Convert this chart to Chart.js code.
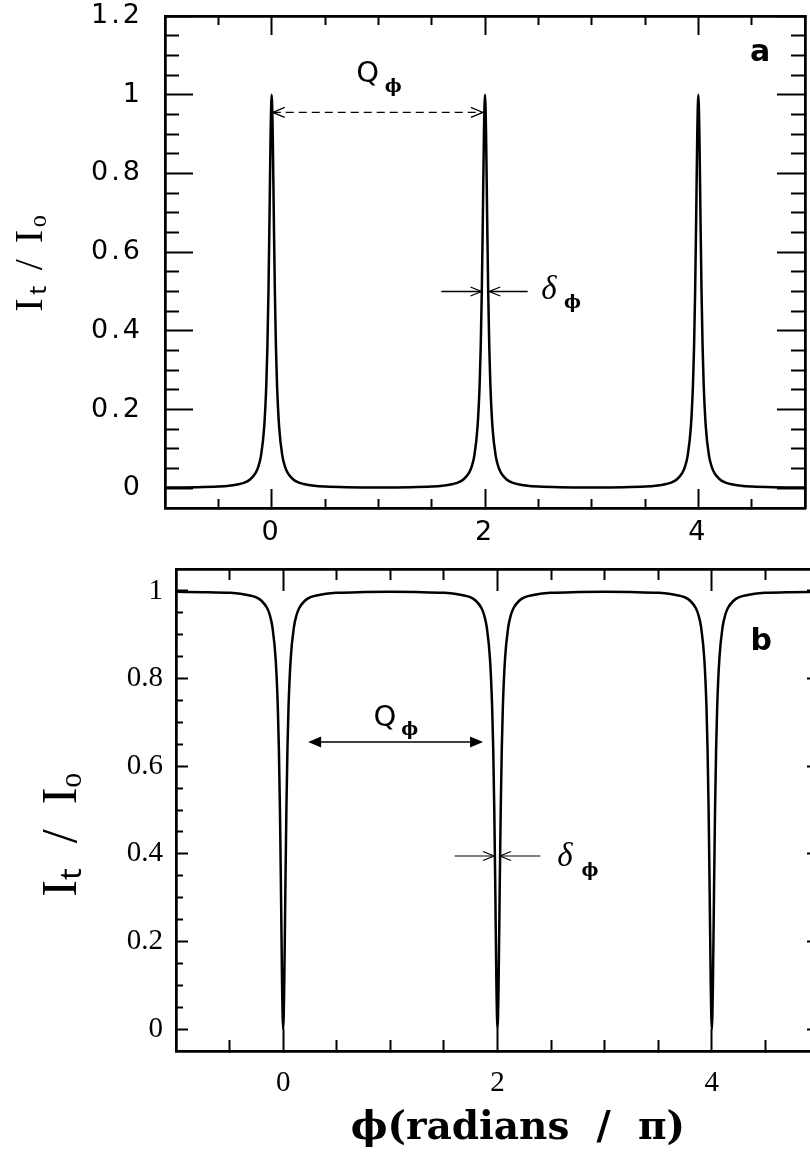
<!DOCTYPE html>
<html lang="en">
<head>
<meta charset="UTF-8">
<title>Fabry-Perot transmission and reflection</title>
<script src="https://cdn.jsdelivr.net/npm/chart.js@4"></script>
<style>
  html, body { margin: 0; padding: 0; background: #fff; overflow: hidden; }
  body { width: 810px; height: 1152px; position: relative; }
  canvas { position: absolute; left: 0; }
  #chartA { top: 0; }
  #chartB { top: 540px; }
</style>
</head>
<body>
<canvas id="chartA" width="830" height="560"></canvas>
<canvas id="chartB" width="830" height="612"></canvas>
<script>
// phase (radians / pi)
const phase = [
  -1, -0.7, -0.5, -0.4, -0.3, -0.25, -0.2, -0.15, -0.125, -0.1, -0.07, -0.05, -0.04, -0.03, -0.02, -0.01,
  0, 0.01, 0.02, 0.03, 0.04, 0.05, 0.07, 0.1, 0.125, 0.15, 0.2, 0.25, 0.3, 0.4, 0.5, 0.7,
  1, 1.3, 1.5, 1.6, 1.7, 1.75, 1.8, 1.85, 1.875, 1.9, 1.93, 1.95, 1.96, 1.97, 1.98, 1.99,
  2, 2.01, 2.02, 2.03, 2.04, 2.05, 2.07, 2.1, 2.125, 2.15, 2.2, 2.25, 2.3, 2.4, 2.5, 2.7,
  3, 3.3, 3.5, 3.6, 3.7, 3.75, 3.8, 3.85, 3.875, 3.9, 3.93, 3.95, 3.96, 3.97, 3.98, 3.99,
  4, 4.01, 4.02, 4.03, 4.04, 4.05, 4.07, 4.1, 4.125, 4.15, 4.2, 4.25, 4.3, 4.4, 4.5, 4.7,
  5
];

// (a) transmitted intensity It/Io
const transA = [
  0.0022, 0.0028, 0.0044, 0.0064, 0.011, 0.015, 0.023, 0.039, 0.055, 0.083, 0.156, 0.265, 0.36, 0.5, 0.692, 0.9,
  1, 0.9, 0.692, 0.5, 0.36, 0.265, 0.156, 0.083, 0.055, 0.039, 0.023, 0.015, 0.011, 0.0064, 0.0044, 0.0028,
  0.0022, 0.0028, 0.0044, 0.0064, 0.011, 0.015, 0.023, 0.039, 0.055, 0.083, 0.156, 0.265, 0.36, 0.5, 0.692, 0.9,
  1, 0.9, 0.692, 0.5, 0.36, 0.265, 0.156, 0.083, 0.055, 0.039, 0.023, 0.015, 0.011, 0.0064, 0.0044, 0.0028,
  0.0022, 0.0028, 0.0044, 0.0064, 0.011, 0.015, 0.023, 0.039, 0.055, 0.083, 0.156, 0.265, 0.36, 0.5, 0.692, 0.9,
  1, 0.9, 0.692, 0.5, 0.36, 0.265, 0.156, 0.083, 0.055, 0.039, 0.023, 0.015, 0.011, 0.0064, 0.0044, 0.0028,
  0.0022
];

// (b) dips of It/Io
const reflB = [
  0.9978, 0.9972, 0.9956, 0.9936, 0.989, 0.985, 0.977, 0.961, 0.945, 0.917, 0.844, 0.735, 0.64, 0.5, 0.308, 0.1,
  0, 0.1, 0.308, 0.5, 0.64, 0.735, 0.844, 0.917, 0.945, 0.961, 0.977, 0.985, 0.989, 0.9936, 0.9956, 0.9972,
  0.9978, 0.9972, 0.9956, 0.9936, 0.989, 0.985, 0.977, 0.961, 0.945, 0.917, 0.844, 0.735, 0.64, 0.5, 0.308, 0.1,
  0, 0.1, 0.308, 0.5, 0.64, 0.735, 0.844, 0.917, 0.945, 0.961, 0.977, 0.985, 0.989, 0.9936, 0.9956, 0.9972,
  0.9978, 0.9972, 0.9956, 0.9936, 0.989, 0.985, 0.977, 0.961, 0.945, 0.917, 0.844, 0.735, 0.64, 0.5, 0.308, 0.1,
  0, 0.1, 0.308, 0.5, 0.64, 0.735, 0.844, 0.917, 0.945, 0.961, 0.977, 0.985, 0.989, 0.9936, 0.9956, 0.9972,
  0.9978
];

// tick positions
const xMajor = [0, 2, 4];
const xMinor = [-0.5, 0.5, 1, 1.5, 2.5, 3, 3.5, 4.5];
const yMajorA = [0, 0.2, 0.4, 0.6, 0.8, 1, 1.2];
const yMinorA = [0.05, 0.1, 0.15, 0.25, 0.3, 0.35, 0.45, 0.5, 0.55, 0.65, 0.7, 0.75, 0.85, 0.9, 0.95, 1.05, 1.1, 1.15];
const yMajorB = [0, 0.2, 0.4, 0.6, 0.8, 1];
const yMinorB = [0.05, 0.1, 0.15, 0.25, 0.3, 0.35, 0.45, 0.5, 0.55, 0.65, 0.7, 0.75, 0.85, 0.9, 0.95];

const yTitleA = 'Iₜ / Iₒ';
const yTitleB = 'Iₜ  /  Iₒ    ';
const xTitle = '   ϕ(radians  /  π)';

const fmt = v => String(+v.toFixed(2));

// one axis: pos, [min,max], tick list, inward tick length, box size, label cfg
function axis(pos, range, list, len, size, lab) {
  const horiz = pos === 'top' || pos === 'bottom';
  return {
    type: 'linear',
    axis: horiz ? 'x' : 'y',
    position: pos,
    min: range[0],
    max: range[1],
    weight: lab ? 10 : 0,
    afterBuildTicks: s => { s.ticks = list.map(v => ({ value: v })); },
    afterFit: s => {
      if (horiz) s.height = size; else s.width = size;
      s.paddingLeft = s.paddingRight = s.paddingTop = s.paddingBottom = 0;
    },
    grid: { drawOnChartArea: false, drawTicks: true, tickLength: -len, tickWidth: 2, tickColor: '#000' },
    border: { display: true, color: '#000', width: 2.5 },
    ticks: lab ? {
      display: true, autoSkip: false, maxRotation: 0, minRotation: 0,
      padding: lab.pad, font: lab.font, color: '#000', callback: fmt
    } : { display: false },
    title: lab && lab.title ? lab.title : { display: false }
  };
}

function curve(ys) {
  return {
    data: phase.map((x, i) => ({ x, y: ys[i] })),
    borderColor: '#000',
    borderWidth: 2.5,
    pointRadius: 0,
    fill: false,
    cubicInterpolationMode: 'monotone'
  };
}

function openHead(ctx, x, y, dir, len, half) {
  ctx.beginPath();
  ctx.moveTo(x - dir * len, y - half);
  ctx.lineTo(x, y);
  ctx.lineTo(x - dir * len, y + half);
  ctx.stroke();
}
function solidHead(ctx, x, y, dir, len, half) {
  ctx.beginPath();
  ctx.moveTo(x - dir * len, y - half);
  ctx.lineTo(x, y);
  ctx.lineTo(x - dir * len, y + half);
  ctx.closePath();
  ctx.fill();
}
function label(ctx, sx, sy, p, text, font) {
  ctx.font = font;
  ctx.fillText(text, sx.getPixelForValue(p[0]), sy.getPixelForValue(p[1]));
}

// annotation positions, data units
const qA = { x0: 0.01, x1: 1.98, y: 0.955, q: [0.9, 1.051], sub: [1.14, 1.02] };
const dA = { l: [1.59, 1.967], r: [2.4, 2.04], y: 0.5, d: [2.6, 0.503], sub: [2.82, 0.471] };
const panelA = [4.58, 1.105];
const qB = { x0: 0.233, x1: 1.865, y: 0.655, q: [0.95, 0.709], sub: [1.18, 0.682] };
const dB = { l: [1.6, 1.967], r: [2.4, 2.023], y: 0.395, d: [2.63, 0.391], sub: [2.862, 0.361] };
const panelB = [4.46, 0.884];

const hershey = { family: '"DejaVu Sans"', size: 27 };
const spacing = {
  id: 'spacing',
  beforeDraw(chart) { chart.ctx.letterSpacing = '3px'; },
  beforeDatasetsDraw(chart) { chart.ctx.letterSpacing = '0px'; }
};

const marksA = {
  id: 'marksA',
  afterDatasetsDraw(chart) {
    const { ctx, scales: { x, y } } = chart;
    ctx.save();
    ctx.strokeStyle = ctx.fillStyle = '#000';
    ctx.textAlign = 'center';
    ctx.textBaseline = 'middle';
    // Q dashed arrow
    const yq = y.getPixelForValue(qA.y);
    const xa = x.getPixelForValue(qA.x0), xb = x.getPixelForValue(qA.x1);
    ctx.lineWidth = 1.3;
    ctx.setLineDash([8, 5]);
    ctx.beginPath(); ctx.moveTo(xa, yq); ctx.lineTo(xb, yq); ctx.stroke();
    ctx.setLineDash([]);
    openHead(ctx, xa, yq, -1, 12, 5);
    openHead(ctx, xb, yq, 1, 12, 5);
    label(ctx, x, y, qA.q, 'Q', '29px "DejaVu Sans"');
    label(ctx, x, y, qA.sub, 'ϕ', 'bold 18px "DejaVu Serif"');
    // delta arrows
    const yd = y.getPixelForValue(dA.y);
    ctx.beginPath();
    ctx.moveTo(x.getPixelForValue(dA.l[0]), yd); ctx.lineTo(x.getPixelForValue(dA.l[1]), yd);
    ctx.moveTo(x.getPixelForValue(dA.r[0]), yd); ctx.lineTo(x.getPixelForValue(dA.r[1]), yd);
    ctx.stroke();
    openHead(ctx, x.getPixelForValue(dA.l[1]), yd, 1, 11, 4.5);
    openHead(ctx, x.getPixelForValue(dA.r[1]), yd, -1, 11, 4.5);
    label(ctx, x, y, dA.d, 'δ', 'italic 33px "Liberation Serif"');
    label(ctx, x, y, dA.sub, 'ϕ', 'bold 18px "DejaVu Serif"');
    label(ctx, x, y, panelA, 'a', 'bold 30px "DejaVu Sans"');
    ctx.restore();
  }
};

const marksB = {
  id: 'marksB',
  afterDatasetsDraw(chart) {
    const { ctx, scales: { x, y } } = chart;
    ctx.save();
    ctx.strokeStyle = ctx.fillStyle = '#000';
    ctx.textAlign = 'center';
    ctx.textBaseline = 'middle';
    const yq = y.getPixelForValue(qB.y);
    const xa = x.getPixelForValue(qB.x0), xb = x.getPixelForValue(qB.x1);
    ctx.lineWidth = 1.5;
    ctx.beginPath(); ctx.moveTo(xa + 6, yq); ctx.lineTo(xb - 6, yq); ctx.stroke();
    solidHead(ctx, xa, yq, -1, 13, 5.5);
    solidHead(ctx, xb, yq, 1, 13, 5.5);
    label(ctx, x, y, qB.q, 'Q', '29px "DejaVu Sans"');
    label(ctx, x, y, qB.sub, 'ϕ', 'bold 18px "DejaVu Serif"');
    const yd = y.getPixelForValue(dB.y);
    ctx.lineWidth = 1.2;
    ctx.beginPath();
    ctx.moveTo(x.getPixelForValue(dB.l[0]), yd); ctx.lineTo(x.getPixelForValue(dB.l[1]), yd);
    ctx.moveTo(x.getPixelForValue(dB.r[0]), yd); ctx.lineTo(x.getPixelForValue(dB.r[1]), yd);
    ctx.stroke();
    openHead(ctx, x.getPixelForValue(dB.l[1]), yd, 1, 11, 4.5);
    openHead(ctx, x.getPixelForValue(dB.r[1]), yd, -1, 11, 4.5);
    label(ctx, x, y, dB.d, 'δ', 'italic 33px "Liberation Serif"');
    label(ctx, x, y, dB.sub, 'ϕ', 'bold 18px "DejaVu Serif"');
    label(ctx, x, y, panelB, 'b', 'bold 30px "DejaVu Sans"');
    ctx.restore();
  }
};

const common = {
  responsive: false,
  animation: false,
  events: [],
  plugins: { legend: { display: false }, tooltip: { enabled: false } }
};

// panel a
new Chart(document.getElementById('chartA'), {
  type: 'line',
  data: { datasets: [curve(transA)] },
  plugins: [spacing, marksA],
  options: Object.assign({}, common, {
    layout: { padding: { top: 16, right: 25, left: 0, bottom: 0 } },
    scales: {
      x: axis('bottom', [-1, 5], xMajor, 19, 52, { pad: 28, font: hershey }),
      xMinor: axis('bottom', [-1, 5], xMinor, 9, 0),
      xTop: axis('top', [-1, 5], xMajor, 19, 0),
      xTopMinor: axis('top', [-1, 5], xMinor, 9, 0),
      y: axis('left', [-0.05, 1.2], yMajorA, 28, 165, {
        pad: 50, font: hershey,
        title: { display: true, text: yTitleA, color: '#000',
                 font: { family: '"Liberation Serif"', size: 40, lineHeight: 1.2 }, padding: { top: 7, bottom: 0 } }
      }),
      yMinor: axis('left', [-0.05, 1.2], yMinorA, 14, 0),
      yRight: axis('right', [-0.05, 1.2], yMajorA, 28, 0),
      yRightMinor: axis('right', [-0.05, 1.2], yMinorA, 14, 0)
    }
  })
});

// panel b
const serif = { family: '"Liberation Serif"', size: 29 };
new Chart(document.getElementById('chartB'), {
  type: 'line',
  data: { datasets: [curve(reflB)] },
  plugins: [marksB],
  options: Object.assign({}, common, {
    layout: { padding: { top: 29, right: 11, left: 0, bottom: 0 } },
    scales: {
      x: axis('bottom', [-1, 5], xMajor, 22, 101, {
        pad: 37, font: serif,
        title: { display: true, text: xTitle, color: '#000',
                 font: { family: '"DejaVu Serif"', size: 39, weight: 'bold', lineHeight: 1.2 }, padding: { top: 0, bottom: 0 } }
      }),
      xMinor: axis('bottom', [-1, 5], xMinor, 11, 0),
      xTop: axis('top', [-1, 5], xMajor, 22, 0),
      xTopMinor: axis('top', [-1, 5], xMinor, 11, 0),
      y: axis('left', [-0.05, 1.05], yMajorB, 12, 176, {
        pad: 25, font: serif,
        title: { display: true, text: yTitleB, color: '#000',
                 font: { family: '"Liberation Serif"', size: 50, lineHeight: 1.2 }, padding: { top: 33, bottom: 0 } }
      }),
      yMinor: axis('left', [-0.05, 1.05], yMinorB, 7, 0),
      yRight: axis('right', [-0.05, 1.05], yMajorB, 12, 0),
      yRightMinor: axis('right', [-0.05, 1.05], yMinorB, 7, 0)
    }
  })
});
</script>
</body>
</html>
